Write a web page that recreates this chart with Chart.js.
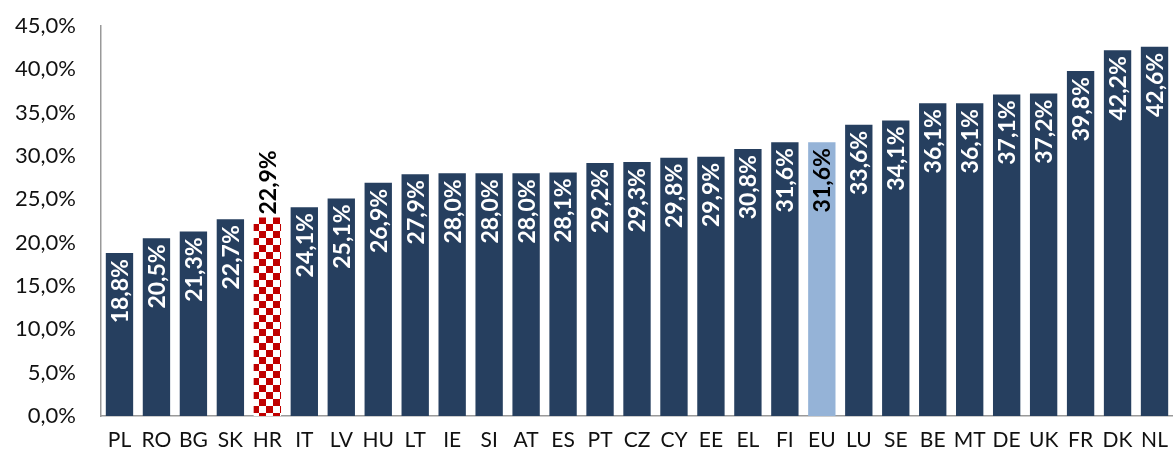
<!DOCTYPE html>
<html><head><meta charset="utf-8">
<script src="https://cdn.jsdelivr.net/npm/chart.js@4.4.0/dist/chart.umd.min.js"></script>
<style>html,body{margin:0;padding:0;background:#fff}#wrap{width:1173px;height:462px}</style>
</head><body><div id="wrap"><canvas id="c" width="1173" height="462"></canvas></div>
<script>
const categories = ['PL','RO','BG','SK','HR','IT','LV','HU','LT','IE','SI','AT','ES','PT','CZ','CY','EE','EL','FI','EU','LU','SE','BE','MT','DE','UK','FR','DK','NL'];
const values = [18.8,20.5,21.3,22.7,22.9,24.1,25.1,26.9,27.9,28.0,28.0,28.0,28.1,29.2,29.3,29.8,29.9,30.8,31.6,31.6,33.6,34.1,36.1,36.1,37.1,37.2,39.8,42.2,42.6];
const yTicks = [0,5,10,15,20,25,30,35,40,45];

const NAVY = '#263F5F', EUBLUE = '#95B3D7';
function checker(){
  const s = 7, c = document.createElement('canvas');
  c.width = s*2; c.height = s*2;
  const g = c.getContext('2d');
  g.fillStyle = '#fff'; g.fillRect(0,0,s*2,s*2);
  g.fillStyle = '#C00000'; g.fillRect(0,0,s,s); g.fillRect(s,s,s,s);
  return document.getElementById('c').getContext('2d').createPattern(c,'repeat');
}
const pat = checker();
const colors = categories.map(c => c==='HR' ? pat : (c==='EU' ? EUBLUE : NAVY));
const fmt = v => v.toFixed(1).replace('.',',') + '%';
const FONT = 'Lato, "Open Sans", sans-serif';

const labelPlugin = {
  id:'vlabels',
  afterDatasetsDraw(chart){
    const ctx = chart.ctx, meta = chart.getDatasetMeta(0);
    ctx.save();
    ctx.font = 'bold 23px ' + FONT;
    meta.data.forEach((bar,i)=>{
      const cat = categories[i], txt = fmt(values[i]);
      ctx.save();
      ctx.translate(bar.x, bar.y);
      ctx.rotate(-Math.PI/2);
      ctx.textBaseline = 'middle';
      if (cat==='HR'){
        ctx.fillStyle = '#000'; ctx.textAlign = 'left';
        ctx.fillText(txt, 3, 1);
      } else {
        ctx.fillStyle = cat==='EU' ? '#000' : '#fff';
        ctx.textAlign = 'right';
        ctx.fillText(txt, -6, 1);
      }
      ctx.restore();
    });
    ctx.restore();
  }
};

new Chart(document.getElementById('c'), {
  type:'bar',
  data:{ labels:categories, datasets:[{ data:values, backgroundColor:colors, borderWidth:0, barPercentage:0.74, categoryPercentage:1 }]},
  options:{
    responsive:false, animation:false,
    layout:{ padding:{ top:26, right:0, left:0, bottom:0 } },
    plugins:{ legend:{display:false}, tooltip:{enabled:false} },
    scales:{
      x:{
        afterFit(ax){ ax.height = 46; ax.paddingLeft = 0; ax.paddingRight = 0; },
        grid:{ display:false, drawTicks:false },
        border:{ display:true, color:'#999', width:1.5 },
        ticks:{ color:'#111', font:{ family:FONT, size:21 }, padding:12, maxRotation:0, autoSkip:false }
      },
      y:{
        min:0, max:45,
        afterBuildTicks(ax){ ax.ticks = yTicks.map(v=>({value:v})); },
        afterFit(ax){ ax.width = 101; ax.paddingTop = 0; ax.paddingBottom = 0; },
        grid:{ display:false, drawTicks:false },
        border:{ display:true, color:'#999', width:1.5 },
        ticks:{ color:'#111', font:{ family:FONT, size:22 }, padding:25, callback:v=>v.toFixed(1).replace('.',',')+'%' }
      }
    }
  },
  plugins:[labelPlugin]
});
</script></body></html>
